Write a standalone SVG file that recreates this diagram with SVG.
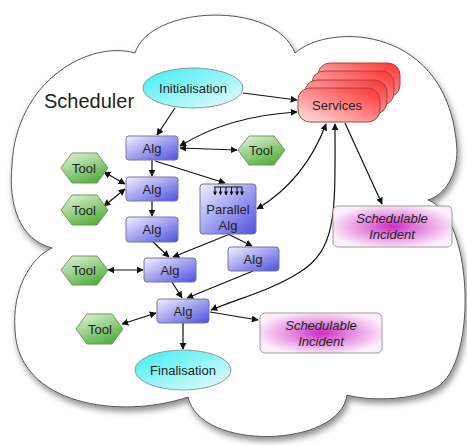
<svg xmlns="http://www.w3.org/2000/svg" width="467" height="445" viewBox="0 0 467 445">
<defs>
<linearGradient id="gAlg" x1="0" y1="0" x2="1" y2="1"><stop offset="0" stop-color="#f2f2ff"/><stop offset="1" stop-color="#4f4fe0"/></linearGradient>
<linearGradient id="gTool" x1="0" y1="0" x2="0.6" y2="1"><stop offset="0" stop-color="#e6f7e0"/><stop offset="1" stop-color="#58b040"/></linearGradient>
<linearGradient id="gCyan" x1="0" y1="0" x2="1" y2="1"><stop offset="0" stop-color="#38eef2"/><stop offset="1" stop-color="#eefcfc"/></linearGradient>
<linearGradient id="gRed" x1="1" y1="0" x2="0" y2="1"><stop offset="0" stop-color="#ff2e2e"/><stop offset="1" stop-color="#ffe4e4"/></linearGradient>
<radialGradient id="gInc" cx="0.5" cy="0.5" r="0.55"><stop offset="0" stop-color="#d028c4"/><stop offset="0.35" stop-color="#e078da"/><stop offset="1" stop-color="#fdf0fb"/></radialGradient>
<marker id="ah" viewBox="0 0 10 10" refX="9" refY="5" markerWidth="7" markerHeight="7" orient="auto-start-reverse" markerUnits="userSpaceOnUse"><path d="M0,0 L10,5 L0,10 z" fill="#111"/></marker>
<marker id="sm" viewBox="0 0 10 10" refX="9" refY="5" markerWidth="4" markerHeight="4" orient="auto" markerUnits="userSpaceOnUse"><path d="M0,0 L10,5 L0,10 z" fill="#111"/></marker>
<filter id="sh" x="-10%" y="-10%" width="120%" height="130%"><feDropShadow dx="2" dy="4" stdDeviation="3" flood-color="#000" flood-opacity="0.45"/></filter>
</defs>
<style>
.alg{fill:url(#gAlg);stroke:#77779a;stroke-width:1}
.tool{fill:url(#gTool);stroke:#6a9a5e;stroke-width:1}
.cy{fill:url(#gCyan);stroke:#8a9a9a;stroke-width:1}
.svc{fill:url(#gRed);stroke:#9a4a4a;stroke-width:1}
.inc{fill:url(#gInc);stroke:#9a9a9a;stroke-width:1}
text{font-family:"Liberation Sans",Arial,sans-serif;font-size:13px;fill:#222;text-anchor:middle}
.it{font-style:italic}
.c path,.c line{fill:none;stroke:#111;stroke-width:1.2}
</style>
<g id="cloud">
<path filter="url(#sh)" fill="#fff" stroke="#555" stroke-width="1" d="M135,53 C150,5 275,0 295,53 C330,22 450,25 457,150 C457,175 445,195 428,200 C472,215 478,355 440,385 C420,400 372,402 347,395 C340,448 200,452 188,397 C120,420 18,405 15,330 C12,290 30,258 52,248 C20,240 8,205 12,165 C16,80 90,40 135,53 Z"/>
<text x="44" y="108" style="font-size:20px;text-anchor:start">Scheduler</text>
</g>
<g class="c" id="connectors">
<line x1="243" y1="93" x2="297" y2="100" marker-end="url(#ah)"/>
<line x1="175" y1="108" x2="157" y2="135" marker-end="url(#ah)"/>
<path d="M180,146 Q228,116 297,112" marker-start="url(#ah)" marker-end="url(#ah)"/>
<line x1="180" y1="148" x2="237" y2="150" marker-start="url(#ah)" marker-end="url(#ah)"/>
<line x1="152" y1="160" x2="152" y2="176" marker-end="url(#ah)"/>
<line x1="155" y1="161" x2="225" y2="183" marker-end="url(#ah)"/>
<line x1="104" y1="172" x2="125" y2="184" marker-start="url(#ah)" marker-end="url(#ah)"/>
<line x1="104" y1="206" x2="125" y2="189" marker-start="url(#ah)" marker-end="url(#ah)"/>
<line x1="152" y1="201" x2="152" y2="216" marker-end="url(#ah)"/>
<path d="M326,124 Q305,180 257,209" marker-start="url(#ah)" marker-end="url(#ah)"/>
<path d="M335,124 C335,210 338,248 300,272 C272,290 240,298 211,310" marker-start="url(#ah)" marker-end="url(#ah)"/>
<line x1="153" y1="242" x2="169" y2="257" marker-end="url(#ah)"/>
<line x1="230" y1="234" x2="173" y2="257" marker-end="url(#ah)"/>
<line x1="228" y1="234" x2="252" y2="246" marker-end="url(#ah)"/>
<line x1="108" y1="270" x2="143" y2="270" marker-start="url(#ah)" marker-end="url(#ah)"/>
<line x1="172" y1="282" x2="182" y2="298" marker-end="url(#ah)"/>
<line x1="253" y1="271" x2="187" y2="298" marker-end="url(#ah)"/>
<line x1="122" y1="324" x2="156" y2="313" marker-start="url(#ah)" marker-end="url(#ah)"/>
<line x1="210" y1="312" x2="258" y2="320" marker-end="url(#ah)"/>
<line x1="183" y1="323" x2="183" y2="349" marker-end="url(#ah)"/>
<line x1="345" y1="123" x2="382" y2="204" marker-end="url(#ah)"/>
</g>
<g id="initialisation"><ellipse class="cy" cx="193" cy="88" rx="50" ry="20"/><text x="193" y="93">Initialisation</text></g>
<g id="services">
<rect class="svc" x="318" y="63" width="82" height="34" rx="12"/>
<rect class="svc" x="312" y="71" width="82" height="34" rx="12"/>
<rect class="svc" x="305" y="80" width="82" height="34" rx="12"/>
<rect class="svc" x="298" y="88" width="82" height="34" rx="12"/>
<text x="337" y="110">Services</text>
</g>
<g id="alg1"><rect class="alg" x="126" y="136" width="52" height="24" rx="3"/><text x="152" y="153">Alg</text></g>
<g id="alg2"><rect class="alg" x="126" y="177" width="52" height="24" rx="3"/><text x="152" y="194">Alg</text></g>
<g id="alg3"><rect class="alg" x="126" y="217" width="52" height="25" rx="3"/><text x="152" y="234">Alg</text></g>
<g id="alg4"><rect class="alg" x="144" y="258" width="52" height="24" rx="3"/><text x="170" y="275">Alg</text></g>
<g id="alg5"><rect class="alg" x="228" y="247" width="51" height="24" rx="3"/><text x="253" y="264">Alg</text></g>
<g id="alg6"><rect class="alg" x="157" y="299" width="52" height="24" rx="3"/><text x="183" y="316">Alg</text></g>
<g id="parallel">
<rect class="alg" x="200" y="184" width="56" height="50" rx="3"/>
<g stroke="#111" stroke-width="1" fill="none">
<line x1="214" y1="187" x2="242" y2="187"/>
<line x1="215" y1="187" x2="215" y2="195" marker-end="url(#sm)"/>
<line x1="220.5" y1="187" x2="220.5" y2="195" marker-end="url(#sm)"/>
<line x1="226" y1="187" x2="226" y2="195" marker-end="url(#sm)"/>
<line x1="231.5" y1="187" x2="231.5" y2="195" marker-end="url(#sm)"/>
<line x1="237" y1="187" x2="237" y2="195" marker-end="url(#sm)"/>
<line x1="242" y1="187" x2="242" y2="195" marker-end="url(#sm)"/>
</g>
<text x="228" y="214">Parallel</text><text x="228" y="230">Alg</text>
</g>
<g id="toolA"><polygon class="tool" points="238,150 249,136 274,136 285,150 274,165 249,165"/><text x="261" y="155">Tool</text></g>
<g id="toolB"><polygon class="tool" points="61,168 72,153 97,153 108,168 97,183 72,183"/><text x="84" y="173">Tool</text></g>
<g id="toolC"><polygon class="tool" points="61,210 72,195 97,195 108,210 97,225 72,225"/><text x="84" y="215">Tool</text></g>
<g id="toolD"><polygon class="tool" points="61,270 72,256 97,256 108,270 97,285 72,285"/><text x="84" y="275">Tool</text></g>
<g id="toolE"><polygon class="tool" points="76,329 87,314 112,314 123,329 112,344 87,344"/><text x="100" y="334">Tool</text></g>
<g id="incident1"><rect class="inc" x="333" y="206" width="119" height="41" rx="5"/><text class="it" x="392" y="223">Schedulable</text><text class="it" x="392" y="239">Incident</text></g>
<g id="incident2"><rect class="inc" x="260" y="313" width="122" height="40" rx="5"/><text class="it" x="321" y="330">Schedulable</text><text class="it" x="321" y="346">Incident</text></g>
<g id="finalisation"><ellipse class="cy" cx="183" cy="370" rx="48" ry="20"/><text x="183" y="375">Finalisation</text></g>
</svg>
